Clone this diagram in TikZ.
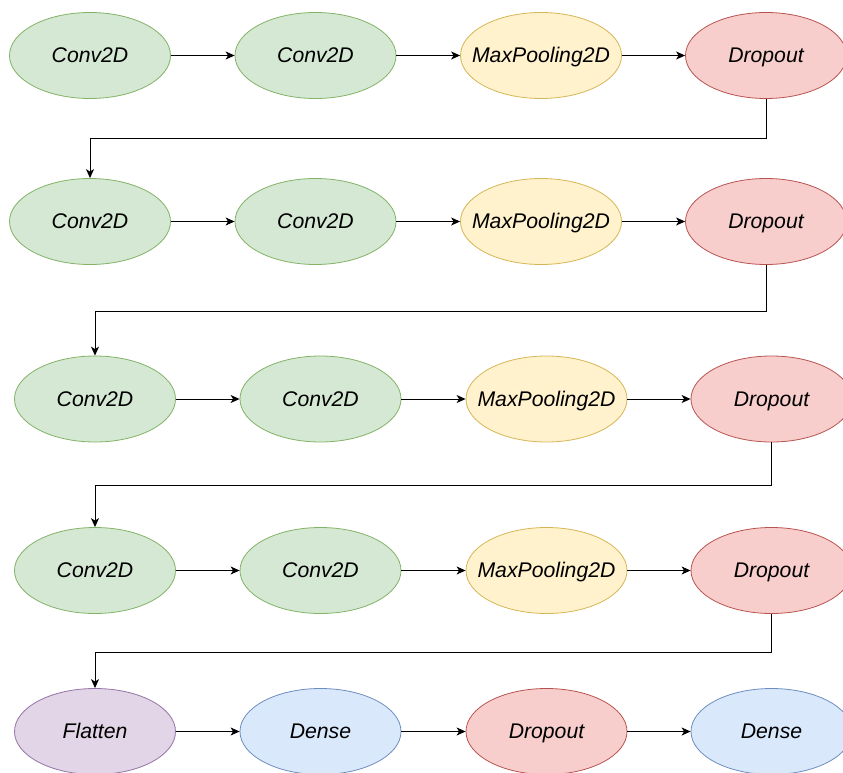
\documentclass[tikz,border=0pt]{standalone}
\usepackage{fontspec}
\setmainfont{Liberation Sans}
\usetikzlibrary{shapes.geometric,arrows.meta}
\definecolor{gfill}{HTML}{D5E8D4}\definecolor{gdraw}{HTML}{82B366}
\definecolor{yfill}{HTML}{FFF2CC}\definecolor{ydraw}{HTML}{D6B656}
\definecolor{rfill}{HTML}{F8CECC}\definecolor{rdraw}{HTML}{B85450}
\definecolor{bfill}{HTML}{DAE8FC}\definecolor{bdraw}{HTML}{6C8EBF}
\definecolor{pfill}{HTML}{E1D5E7}\definecolor{pdraw}{HTML}{9673A6}
\tikzset{
  layer/.style={ellipse, minimum width=161pt, minimum height=86pt, inner sep=0pt, line width=0.8pt,
    text height=16pt, text depth=1.4pt,
    font=\fontsize{21.2}{24}\selectfont\itshape},
  conv/.style={layer, fill=gfill, draw=gdraw},
  pool/.style={layer, fill=yfill, draw=ydraw},
  drop/.style={layer, fill=rfill, draw=rdraw},
  dense/.style={layer, fill=bfill, draw=bdraw},
  flat/.style={layer, fill=pfill, draw=pdraw},
  arr/.style={-{Stealth[length=9pt,width=8pt,inset=2.5pt]}, line width=1pt, black},
}
\newcommand{\lbl}[1]{\makebox[0pt]{#1}}
\begin{document}
\begin{tikzpicture}[x=1pt,y=-1pt]
\useasboundingbox (0,0) rectangle (843,773);
% row 1
\node[conv] (c11) at (90,55.5) {\lbl{Conv2D}};
\node[conv] (c12) at (315.5,55.5) {\lbl{Conv2D}};
\node[pool] (p1) at (541,55.5) {\lbl{MaxPooling2D}};
\node[drop] (d1) at (766,55.5) {\lbl{Dropout}};
% row 2
\node[conv] (c21) at (90,221.5) {\lbl{Conv2D}};
\node[conv] (c22) at (315.5,221.5) {\lbl{Conv2D}};
\node[pool] (p2) at (541,221.5) {\lbl{MaxPooling2D}};
\node[drop] (d2) at (766,221.5) {\lbl{Dropout}};
% row 3
\node[conv] (c31) at (95,399) {\lbl{Conv2D}};
\node[conv] (c32) at (320.5,399) {\lbl{Conv2D}};
\node[pool] (p3) at (546.5,399) {\lbl{MaxPooling2D}};
\node[drop] (d3) at (771.5,399) {\lbl{Dropout}};
% row 4
\node[conv] (c41) at (95,570.5) {\lbl{Conv2D}};
\node[conv] (c42) at (320.5,570.5) {\lbl{Conv2D}};
\node[pool] (p4) at (546.5,570.5) {\lbl{MaxPooling2D}};
\node[drop] (d4) at (771.5,570.5) {\lbl{Dropout}};
% row 5
\node[flat] (f5) at (95,731.5) {\lbl{Flatten}};
\node[dense] (e5) at (320.5,731.5) {\lbl{Dense}};
\node[drop] (d5) at (546.5,731.5) {\lbl{Dropout}};
\node[dense] (e6) at (771.5,731.5) {\lbl{Dense}};
% horizontal arrows
\foreach \a/\b in {c11/c12,c12/p1,p1/d1,c21/c22,c22/p2,p2/d2,c31/c32,c32/p3,p3/d3,c41/c42,c42/p4,p4/d4,f5/e5,e5/d5,d5/e6}
  \draw[arr] (\a.east) -- (\b.west);
% row connectors
\coordinate (b1) at (766,139);
\coordinate (b2) at (766,311);
\coordinate (b3) at (771.5,485);
\coordinate (b4) at (771.5,652);
\draw[arr] (d1.south) -- (b1) -| (c21.north);
\draw[arr] (d2.south) -- (b2) -| (c31.north);
\draw[arr] (d3.south) -- (b3) -| (c41.north);
\draw[arr] (d4.south) -- (b4) -| (f5.north);
\end{tikzpicture}
\end{document}
